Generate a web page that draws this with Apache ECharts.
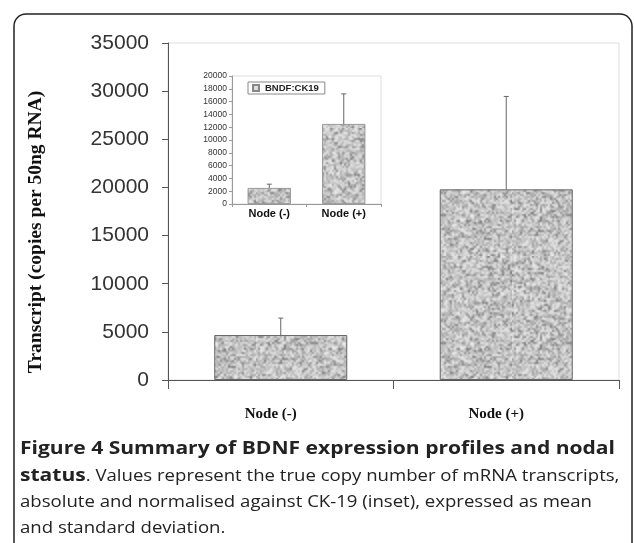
<!DOCTYPE html>
<html><head><meta charset="utf-8">
<script src="https://cdn.jsdelivr.net/npm/echarts@6/dist/echarts.min.js"></script>
<style>html,body{margin:0;padding:0;background:#fff}#c{width:634px;height:543px}</style>
</head><body><div id="c"></div>
<script>
// ---- data ----
const categories = ['Node (-)', 'Node (+)'];
const mainMeans = [4670, 19800];
const mainUpper = [6430, 29450];
const insetMeans = [2500, 12500];
const insetUpper = [3100, 17200];
const insetSeriesName = 'BNDF:CK19';
const yAxisTitle = 'Transcript (copies per 50ng RNA)';
const captionBold1 = 'Figure 4 Summary of BDNF expression profiles and nodal';
const captionBold2 = 'status';
const captionRest2 = '. Values represent the true copy number of mRNA transcripts,';
const captionLine3 = 'absolute and normalised against CK-19 (inset), expressed as mean';
const captionLine4 = 'and standard deviation.';

// ---- speckled texture (deterministic) ----
function makeTexture() {
  const n = 64;
  const small = document.createElement('canvas');
  small.width = n; small.height = n;
  const sctx = small.getContext('2d');
  const img = sctx.createImageData(n, n);
  let s = 12345;
  function h() { s = (s * 1103515245 + 12345) & 0x7fffffff; return s / 0x7fffffff; }
  for (let i = 0; i < n * n; i++) {
    const r = h();
    let g;
    if (r < 0.12) g = 120 + h() * 35;
    else if (r < 0.45) g = 165 + h() * 25;
    else g = 195 + h() * 40;
    img.data[i * 4] = g; img.data[i * 4 + 1] = g; img.data[i * 4 + 2] = g; img.data[i * 4 + 3] = 255;
  }
  sctx.putImageData(img, 0, 0);
  const c = document.createElement('canvas');
  c.width = n * 2; c.height = n * 2;
  const ctx = c.getContext('2d');
  ctx.imageSmoothingEnabled = true;
  ctx.drawImage(small, 0, 0, n * 2, n * 2);
  return c;
}
const tex = makeTexture();
const barFill = { image: tex, repeat: 'repeat' };

function errorRender() {
  return function (params, api) {
    const p0 = api.coord([api.value(0), api.value(1)]);
    const p1 = api.coord([api.value(0), api.value(2)]);
    return {
      type: 'group',
      children: [
        { type: 'line', shape: { x1: p0[0], y1: p0[1], x2: p1[0], y2: p1[1] }, style: { stroke: '#666', lineWidth: 1 } },
        { type: 'line', shape: { x1: p1[0] - 2.5, y1: p1[1], x2: p1[0] + 2.5, y2: p1[1] }, style: { stroke: '#666', lineWidth: 1 } }
      ]
    };
  };
}

const chart = echarts.init(document.getElementById('c'), null, { renderer: 'canvas' });

// caption: stretch horizontally to match the reference's line widths
const capFont = 'Open Sans';
const capSize = 17;
const capX = 20;
const mctx = document.createElement('canvas').getContext('2d');
function measure(t, bold) {
  mctx.font = (bold ? 'bold ' : '') + capSize + 'px "' + capFont + '"';
  return mctx.measureText(t).width;
}
const boldScale = 595 / measure(captionBold1, true);
const normScale = 572 / measure(captionLine3, false);
const capYs = [449, 476, 502, 528];
function capText(t, x, y, bold, sc) {
  return { type: 'text', x: x, y: y, scaleX: sc,
    style: { text: t, fontFamily: capFont, fontSize: capSize, fontWeight: bold ? 'bold' : 'normal', fill: '#222', verticalAlign: 'middle' } };
}
const statusW = measure(captionBold2, true) * boldScale;
const captionGraphics = [
  capText(captionBold1, capX, capYs[0], true, boldScale),
  capText(captionBold2, capX, capYs[1], true, boldScale),
  capText(captionRest2, capX + statusW, capYs[1], false, normScale),
  capText(captionLine3, capX, capYs[2], false, normScale),
  capText(captionLine4, capX, capYs[3], false, normScale)
];

const plainNum = v => String(v);

const option = {
  backgroundColor: '#fff',
  animation: false,
  legend: {
    data: [insetSeriesName],
    left: 248, top: 82,
    orient: 'horizontal',
    itemWidth: 6, itemHeight: 6, itemGap: 4,
    padding: [1, 6, 1, 4],
    borderColor: '#888', borderWidth: 1, borderRadius: 0,
    backgroundColor: '#fff',
    textStyle: { fontFamily: 'Liberation Sans', fontSize: 9.5, fontWeight: 'bold', color: '#222', padding: [0, 0, 0, 1] },
    icon: 'rect',
    z: 20
  },
  grid: [
    { left: 168, top: 43, right: 15, bottom: 163, show: true, borderColor: '#ddd', borderWidth: 1, backgroundColor: 'transparent' },
    { left: 232, top: 76, right: 253, bottom: 339, show: true, borderColor: '#ddd', borderWidth: 1, backgroundColor: '#fff', z: 10 }
  ],
  xAxis: [
    {
      gridIndex: 0, type: 'category', data: categories,
      axisLine: { lineStyle: { color: '#555', width: 1 } },
      axisTick: { show: true, alignWithLabel: false, length: 9, lineStyle: { color: '#555' } },
      axisLabel: { fontFamily: 'Liberation Serif', fontWeight: 'bold', fontSize: 15, color: '#111', margin: 27, padding: [0, 20, 0, 0] }
    },
    {
      gridIndex: 1, type: 'category', data: categories,
      axisLine: { lineStyle: { color: '#999', width: 1 } },
      axisTick: { show: true, alignWithLabel: false, length: 3, lineStyle: { color: '#999' } },
      axisLabel: { fontFamily: 'Liberation Sans', fontWeight: 'bold', fontSize: 11, color: '#111', margin: 4 },
      z: 11
    }
  ],
  yAxis: [
    {
      gridIndex: 0, type: 'value', min: 0, max: 35000, interval: 5000,
      axisLine: { show: true, lineStyle: { color: '#555', width: 1 } },
      axisTick: { show: true, length: 6, lineStyle: { color: '#555' } },
      splitLine: { show: false },
      axisLabel: { fontFamily: 'Liberation Sans', fontSize: 21, color: '#333', margin: 19, formatter: plainNum }
    },
    {
      gridIndex: 1, type: 'value', min: 0, max: 20000, interval: 2000,
      axisLine: { show: true, lineStyle: { color: '#999', width: 1 } },
      axisTick: { show: true, length: 3, lineStyle: { color: '#999' } },
      splitLine: { show: false },
      axisLabel: { fontFamily: 'Liberation Sans', fontSize: 8.5, color: '#333', margin: 5, formatter: plainNum },
      z: 11
    }
  ],
  series: [
    {
      name: 'Transcript', type: 'bar', xAxisIndex: 0, yAxisIndex: 0, data: mainMeans,
      barWidth: '59%',
      itemStyle: { color: barFill, borderColor: '#666', borderWidth: 1 },
      z: 2
    },
    {
      type: 'custom', xAxisIndex: 0, yAxisIndex: 0,
      data: categories.map((c, i) => [i, mainMeans[i], mainUpper[i]]),
      renderItem: errorRender(), z: 3
    },
    {
      name: insetSeriesName, type: 'bar', xAxisIndex: 1, yAxisIndex: 1, data: insetMeans,
      barWidth: '58%',
      itemStyle: { color: barFill, borderColor: '#888', borderWidth: 0.8 },
      z: 12
    },
    {
      type: 'custom', xAxisIndex: 1, yAxisIndex: 1,
      data: categories.map((c, i) => [i, insetMeans[i], insetUpper[i]]),
      renderItem: errorRender(), z: 13
    }
  ],
  graphic: [
    {
      type: 'rect', shape: { x: 14, y: 14, width: 618, height: 600, r: 12 },
      style: { fill: 'none', stroke: '#222', lineWidth: 1.5 }, z: 100
    },
    {
      type: 'text', x: 36, y: 232, rotation: Math.PI / 2,
      style: { text: yAxisTitle, fontFamily: 'Liberation Serif', fontWeight: 'bold', fontSize: 19.5, fill: '#111', align: 'center', verticalAlign: 'middle' }
    }
  ].concat(captionGraphics)
};
chart.setOption(option);
</script>
</body></html>
